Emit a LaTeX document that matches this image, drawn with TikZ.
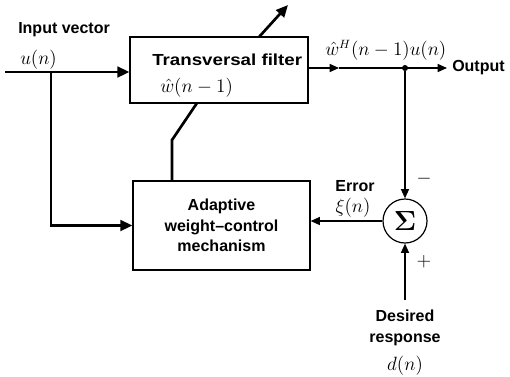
\documentclass[tikz,border=0pt]{standalone}
\usepackage{amsmath,amssymb}
\usepackage[no-math]{fontspec}
\setmainfont{Liberation Sans}
\newfontfamily\widesans[FakeStretch=1.17]{Liberation Sans}
\usepackage{tikz}
\usetikzlibrary{arrows.meta}
\tikzset{
  blk/.style={draw, line width=0.9pt, fill=white, inner sep=0pt},
  sig/.style={draw, circle, line width=0.9pt, fill=white, minimum size=33pt, inner sep=0pt},
  wire/.style={line width=1.1pt, -{Triangle[length=7pt,width=6pt]}},
  bus/.style={line width=2pt},
  busarr/.style={bus, -{Triangle[length=9pt,width=8pt]}},
  lbl/.style={font=\fontsize{12}{15.5}\selectfont\bfseries, inner sep=0pt},
  mlbl/.style={font=\fontsize{13.5}{16}\selectfont, inner sep=0pt},
  jdot/.style={circle, fill, inner sep=1.6pt}
}
\begin{document}
\begin{tikzpicture}[x=0.75pt,y=-0.75pt]
\useasboundingbox (0,0) rectangle (510,376);
\node[blk, minimum width=133.5pt, minimum height=49.5pt] (filt) at (219,70) {};
\node[blk, lbl, align=center, minimum width=132.75pt, minimum height=66.75pt] (adapt) at (221.5,225.5) {Adaptive\\weight--control\\mechanism};
\node[sig, font=\fontsize{22}{24}\selectfont] (sum) at (405,221) {$\boldsymbol{\Sigma}$};
\node[jdot] (jn) at (405,68) {};
\coordinate (in) at (5,72);
\coordinate (br) at (51,72);
\coordinate (mid) at (339,68);
\coordinate (out) at (447,68);
\coordinate (des) at (405,300);
\coordinate (knee) at (172,140);
\coordinate (wlo) at (197,103);
\coordinate (whi) at (259,37);
\coordinate (tip) at (288,5);
\draw[busarr] (in) -- (filt.west |- in);
\draw[busarr] (br) |- (adapt.west);
\draw[bus] (adapt.north -| knee) -- (knee) -- (wlo);
\draw[busarr] (whi) -- (tip);
\draw[wire] (filt.east |- jn) -- (mid);
\draw[wire] (mid) -- (out);
\draw[wire] (jn) -- (sum.north);
\draw[wire] (sum.west) -- (adapt.east |- sum.west);
\draw[wire] (des) -- (sum.south);
\node[lbl, anchor=west] (lin) at (18,30) {Input vector};
\node[mlbl, anchor=west] (lu) at (20,60) {$u(n)$};
\node[lbl, font=\fontsize{12}{15.5}\selectfont\widesans\bfseries, anchor=west] (ltf) at (152,60) {Transversal filter};
\node[mlbl, anchor=west] (lw) at (160,88) {$\hat{w}(n-1)$};
\node[mlbl, anchor=west] (lwu) at (325,50) {$\hat{w}^H(n-1)u(n)$};
\node[lbl, anchor=west] (lout) at (452,68) {Output};
\node[lbl] (lerr) at (355,186) {Error};
\node[mlbl] (lxi) at (353,208) {$\xi(n)$};
\node[mlbl] (lminus) at (424,179) {$-$};
\node[mlbl] (lplus) at (424,262) {$+$};
\node[lbl, align=center] (ldes) at (405,328) {Desired\\response};
\node[mlbl] (ld) at (405,366) {$d(n)$};
\end{tikzpicture}
\end{document}
